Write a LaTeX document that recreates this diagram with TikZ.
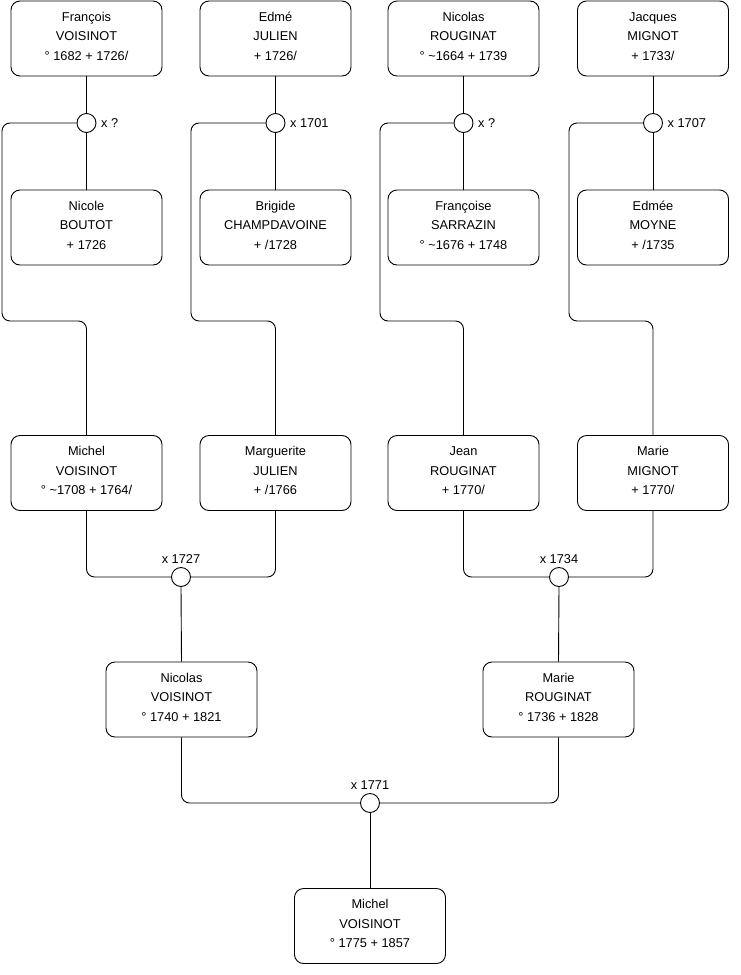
\documentclass[tikz,border=0pt]{standalone}
\usepackage{fontspec}
\setmainfont{Liberation Sans}
\newcommand{\pers}[3]{\raisebox{1.5pt}[\height][\depth]{\begin{tabular}{@{}c@{}}#1\\#2\\#3\end{tabular}}}
\begin{document}
\begin{tikzpicture}[x=1pt,y=-1pt,
  person/.style={draw=black,line width=0.9pt,rounded corners=9pt,minimum width=151pt,minimum height=75pt,inner sep=0pt,align=center,font=\fontsize{12.8}{19.5}\selectfont},
  union/.style={draw=black,line width=0.9pt,fill=white,circle,minimum size=19pt,inner sep=0pt},
  ulabel/.style={font=\fontsize{12.8}{14}\selectfont,inner sep=1.5pt},
  link/.style={draw=black,line width=0.9pt,rounded corners=8pt}]
\useasboundingbox (0,0) rectangle (740,975);
% row 1
\node[person] (p1) at (86.5,38.5) {\pers{François}{VOISINOT}{° 1682 + 1726/}};
\node[person] (p2) at (275.5,38.5) {\pers{Edmé}{JULIEN}{+ 1726/}};
\node[person] (p3) at (463.5,38.5) {\pers{Nicolas}{ROUGINAT}{° \textasciitilde1664 + 1739}};
\node[person] (p4) at (653,38.5) {\pers{Jacques}{MIGNOT}{+ 1733/}};
% row 2
\node[person] (s1) at (86.5,227.5) {\pers{Nicole}{BOUTOT}{+ 1726}};
\node[person] (s2) at (275.5,227.5) {\pers{Brigide}{CHAMPDAVOINE}{+ /1728}};
\node[person] (s3) at (463.5,227.5) {\pers{Françoise}{SARRAZIN}{° \textasciitilde1676 + 1748}};
\node[person] (s4) at (653,227.5) {\pers{Edmée}{MOYNE}{+ /1735}};
% unions row 1
\node[union] (m1) at (86.5,123) {};
\node[union] (m2) at (275.5,123) {};
\node[union] (m3) at (463.5,123) {};
\node[union] (m4) at (653,123) {};
\node[ulabel,anchor=west] (l1) at ([xshift=3pt]m1.east) {x ?};
\node[ulabel,anchor=west] (l2) at ([xshift=3pt]m2.east) {x 1701};
\node[ulabel,anchor=west] (l3) at ([xshift=3pt]m3.east) {x ?};
\node[ulabel,anchor=west] (l4) at ([xshift=3pt]m4.east) {x 1707};
% row 3
\node[person] (c1) at (86.5,473) {\pers{Michel}{VOISINOT}{° \textasciitilde1708 + 1764/}};
\node[person] (c2) at (275.5,473) {\pers{Marguerite}{JULIEN}{+ /1766}};
\node[person] (c3) at (463.5,473) {\pers{Jean}{ROUGINAT}{+ 1770/}};
\node[person] (c4) at (653,473) {\pers{Marie}{MIGNOT}{+ 1770/}};
% unions row 3
\node[union] (m5) at (181,577) {};
\node[union] (m6) at (559,577) {};
\node[ulabel,anchor=south] (l5) at ([yshift=2pt]m5.north) {x 1727};
\node[ulabel,anchor=south] (l6) at ([yshift=2pt]m6.north) {x 1734};
% row 4
\node[person] (d1) at (181.5,699.5) {\pers{Nicolas}{VOISINOT}{° 1740 + 1821}};
\node[person] (d2) at (558.5,699.5) {\pers{Marie}{ROUGINAT}{° 1736 + 1828}};
\node[union] (m7) at (370,803) {};
\node[ulabel,anchor=south] (l7) at ([yshift=2pt]m7.north) {x 1771};
% row 5
\node[person] (e1) at (370,926) {\pers{Michel}{VOISINOT}{° 1775 + 1857}};
% connectors row 1
\foreach \i in {1,2,3,4} {
  \draw[link] (p\i.south) -- (m\i.north);
  \draw[link] (m\i.south) -- (s\i.north);
}
\draw[link] (m1.west) -| (2,321) -| (c1.north);
\draw[link] (m2.west) -| (191,321) -| (c2.north);
\draw[link] (m3.west) -| (380,321) -| (c3.north);
\draw[link] (m4.west) -| (569,321) -| (c4.north);
% connectors row 3
\draw[link] (c1.south) |- (m5.west);
\draw[link] (c2.south) |- (m5.east);
\draw[link] (c3.south) |- (m6.west);
\draw[link] (c4.south) |- (m6.east);
\draw[link] (m5.south) -- (d1.north);
\draw[link] (m6.south) -- (d2.north);
% connectors row 4
\draw[link] (d1.south) |- (m7.west);
\draw[link] (d2.south) |- (m7.east);
\draw[link] (m7.south) -- (e1.north);
\end{tikzpicture}
\end{document}
